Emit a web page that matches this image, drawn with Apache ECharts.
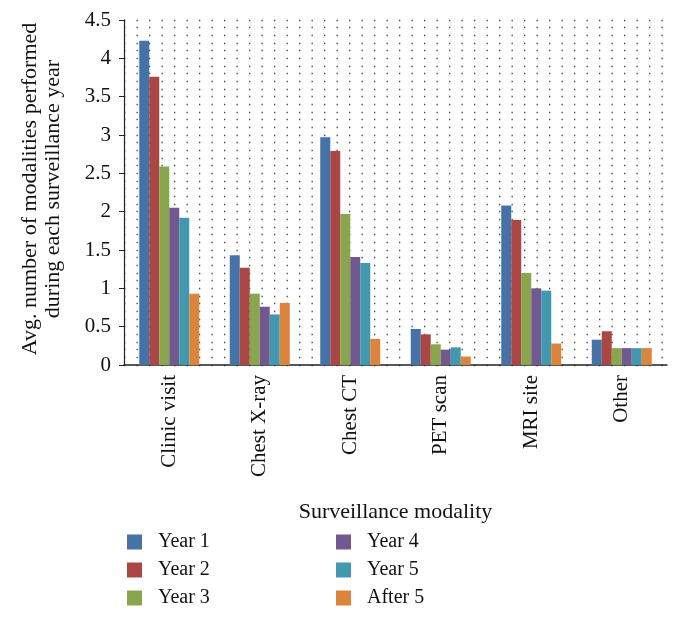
<!DOCTYPE html>
<html>
<head>
<meta charset="utf-8">
<script src="https://cdn.jsdelivr.net/npm/echarts@6/dist/echarts.min.js"></script>
<style>html,body{margin:0;padding:0;background:#fff}#c{width:682px;height:619px}</style>
</head>
<body>
<div id="c"></div>
<script>
const categories = ['Clinic visit', 'Chest X-ray', 'Chest CT', 'PET scan', 'MRI site', 'Other'];
const seriesNames = ['Year 1', 'Year 2', 'Year 3', 'Year 4', 'Year 5', 'After 5'];
const year1 = [4.23, 1.43, 2.97, 0.47, 2.08, 0.33];
const year2 = [3.76, 1.27, 2.79, 0.40, 1.89, 0.44];
const year3 = [2.59, 0.93, 1.97, 0.27, 1.20, 0.22];
const year4 = [2.05, 0.76, 1.41, 0.20, 1.00, 0.22];
const year5 = [1.92, 0.66, 1.33, 0.23, 0.97, 0.22];
const after5 = [0.93, 0.81, 0.34, 0.11, 0.28, 0.22];
const yTicks = { min: 0, max: 4.5, interval: 0.5 };

const colors = ['#4572a7', '#aa4643', '#89a54e', '#71588f', '#4198af', '#db843d'];
const allData = [year1, year2, year3, year4, year5, after5];
const FONT = '"Liberation Serif", "DejaVu Serif", serif';

const legendBase = {
  orient: 'vertical', top: 532, height: 87, padding: 0,
  itemWidth: 15, itemHeight: 15, itemGap: 8,
  icon: 'rect', selectedMode: false,
  textStyle: { fontSize: 20, fontFamily: FONT, color: '#111', padding: [0, 0, 0, 11] }
};

const chart = echarts.init(document.getElementById('c'));
chart.setOption({
  backgroundColor: '#fff',
  animation: false,
  color: colors,
  grid: { left: 124, right: 15, top: 20, bottom: 254, containLabel: false },
  xAxis: {
    type: 'category',
    data: categories,
    axisLine: { lineStyle: { color: '#222', width: 1.5 } },
    axisTick: { show: false },
    axisLabel: { rotate: 90, margin: 10, fontSize: 21, fontFamily: FONT, color: '#111' },
    name: 'Surveillance modality',
    nameLocation: 'middle',
    nameGap: 136,
    nameTextStyle: { fontSize: 22, fontFamily: FONT, color: '#111' },
    splitLine: { show: false }
  },
  yAxis: {
    type: 'value',
    min: yTicks.min, max: yTicks.max, interval: yTicks.interval,
    axisLine: { show: true, lineStyle: { color: '#222', width: 1.2 } },
    axisTick: { show: true, length: 5, lineStyle: { color: '#222' } },
    axisLabel: { margin: 13, fontSize: 21, fontFamily: FONT, color: '#111' },
    splitLine: { show: true, lineStyle: { color: '#444', width: 1.3, type: [1.3, 11.2] } },
    minorTick: { show: false, splitNumber: 5 },
    minorSplitLine: { show: true, lineStyle: { color: '#444', width: 1.3, type: [1.3, 11.2] } }
  },
  legend: [
    Object.assign({}, legendBase, { left: 127, data: seriesNames.slice(0, 3) }),
    Object.assign({}, legendBase, { left: 336, data: seriesNames.slice(3) })
  ],
  graphic: [{
    type: 'text',
    x: 42, y: 189,
    rotation: Math.PI / 2,
    style: {
      text: 'Avg. number of modalities performed\nduring each surveillance year',
      fontSize: 22, fontFamily: FONT, fill: '#111',
      align: 'center', verticalAlign: 'middle', lineHeight: 23
    }
  }],
  series: seriesNames.map((n, i) => ({
    name: n,
    type: 'bar',
    data: allData[i],
    barWidth: 10,
    barGap: '0%',
    itemStyle: { color: colors[i] }
  }))
});
</script>
</body>
</html>
